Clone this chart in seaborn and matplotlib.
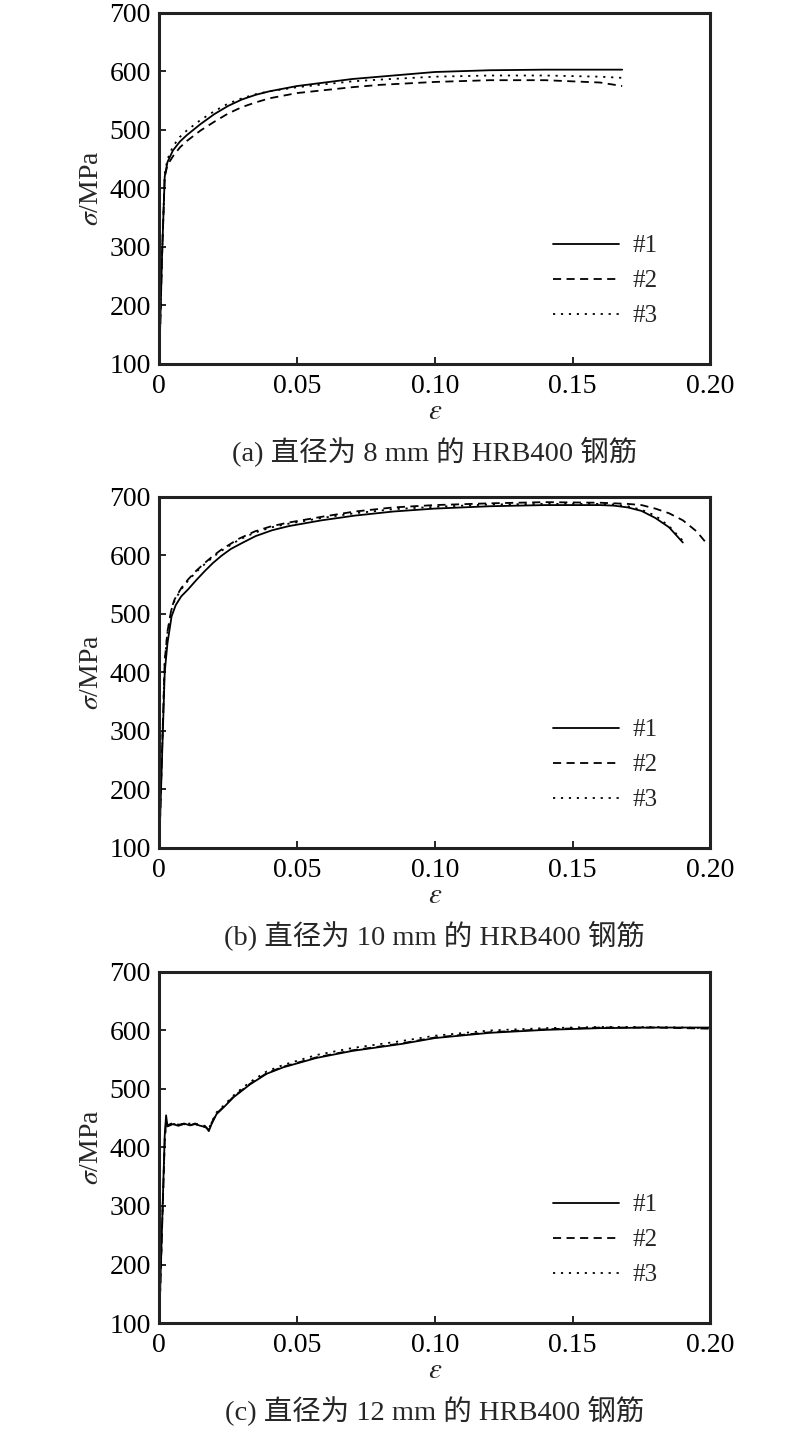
import matplotlib
matplotlib.use('Agg')
import matplotlib.pyplot as plt
import pandas as pd
import seaborn as sns

# strain / stress readings, panel (a) d = 8 mm
a_strain = [0, 0.001, 0.002, 0.003, 0.005, 0.0075, 0.01, 0.015, 0.02, 0.025, 0.03, 0.035, 0.04,
            0.05, 0.06, 0.07, 0.08, 0.10, 0.12, 0.14, 0.16, 0.168]
a_stress_1 = [100, 280, 420, 445, 465, 480, 491, 510, 527, 541, 552, 560, 566,
              575, 581, 587, 591, 599, 602, 603, 603, 603]
a_stress_2 = [100, 280, 420, 440, 455, 470, 481, 499, 514, 528, 539, 547, 554,
              563, 568, 573, 577, 582, 585, 585, 581, 575]
a_stress_3 = [100, 280, 425, 450, 472, 488, 499, 517, 532, 545, 554, 561, 566,
              573, 578, 583, 586, 591, 593, 593, 591, 589]

# panel (b) d = 10 mm
b_strain_1 = [0, 0.001, 0.002, 0.003, 0.0045, 0.006, 0.008, 0.0105, 0.0135, 0.0165, 0.0195, 0.0225, 0.026,
              0.03, 0.035, 0.041, 0.047, 0.059, 0.071, 0.085, 0.10, 0.12, 0.14, 0.16, 0.165, 0.17,
              0.175, 0.18, 0.185, 0.19]
b_stress_1 = [100, 250, 400, 450, 496, 515, 530, 542, 558, 573, 587, 599, 611,
              621, 633, 643, 650, 660, 668, 675, 680, 684, 686, 686, 685, 682,
              676, 664, 648, 622]
b_strain_2 = [0, 0.001, 0.002, 0.003, 0.0045, 0.0056, 0.008, 0.0105, 0.0135, 0.0165, 0.0195, 0.0226, 0.026,
              0.0287, 0.0347, 0.0408, 0.0468, 0.059, 0.071, 0.085, 0.10, 0.12, 0.14, 0.16, 0.17,
              0.175, 0.18, 0.185, 0.19, 0.195, 0.198]
b_stress_2 = [100, 260, 420, 470, 510, 525, 544, 559, 574, 587, 599, 610, 620,
              628, 641, 650, 656, 666, 675, 682, 686, 689, 691, 690, 688,
              686, 680, 672, 660, 641, 624]
b_strain_3 = [0, 0.001, 0.002, 0.003, 0.0045, 0.0056, 0.008, 0.0105, 0.0135, 0.0165, 0.0195, 0.0226, 0.026,
              0.0287, 0.0347, 0.0408, 0.0468, 0.059, 0.071, 0.085, 0.10, 0.12, 0.14, 0.16, 0.165,
              0.17, 0.175, 0.18, 0.185, 0.19]
b_stress_3 = [100, 260, 418, 468, 508, 523, 542, 557, 572, 585, 597, 608, 618,
              626, 639, 648, 654, 664, 672, 679, 683, 687, 688, 688, 687,
              684, 678, 668, 650, 625]

# panel (c) d = 12 mm, yield plateau then hardening
c_strain = [0, 0.001, 0.002, 0.0025, 0.003, 0.005, 0.007, 0.009, 0.011, 0.013, 0.015, 0.017, 0.018, 0.019,
            0.0208, 0.0239, 0.027, 0.03, 0.033, 0.039, 0.045, 0.057, 0.07, 0.088, 0.10, 0.12, 0.14,
            0.16, 0.18, 0.20]
c_stress_1 = [100, 260, 420, 455, 436, 440, 437, 441, 438, 440, 437, 435, 428, 440,
              457, 471, 486, 497, 508, 526, 537, 553, 565, 577, 587, 596, 601, 604, 605, 605]
c_stress_2 = [100, 255, 410, 445, 438, 442, 439, 440, 437, 441, 438, 434, 430, 442,
              458, 472, 487, 498, 509, 527, 538, 554, 566, 578, 588, 597, 602, 605, 605, 603]
c_stress_3 = [100, 255, 415, 440, 441, 439, 442, 438, 441, 439, 440, 436, 432, 443,
              460, 474, 489, 501, 512, 530, 541, 558, 570, 582, 591, 600, 604, 606, 606, 604]

labels = ['#1', '#2', '#3']
captions = ['(a) 直径为 8 mm 的 HRB400 钢筋',
            '(b) 直径为 10 mm 的 HRB400 钢筋',
            '(c) 直径为 12 mm 的 HRB400 钢筋']
x_ticks = [0, 0.05, 0.10, 0.15, 0.20]
x_tick_labels = ['0', '0.05', '0.10', '0.15', '0.20']
y_ticks = [100, 200, 300, 400, 500, 600, 700]


def build_df(series):
    frames = []
    for lab, (x, y) in zip(labels, series):
        frames.append(pd.DataFrame({'strain': x, 'stress': y, 'sample': lab}))
    return pd.concat(frames, ignore_index=True)


panels = [
    build_df([(a_strain, a_stress_1), (a_strain, a_stress_2), (a_strain, a_stress_3)]),
    build_df([(b_strain_1, b_stress_1), (b_strain_2, b_stress_2), (b_strain_3, b_stress_3)]),
    build_df([(c_strain, c_stress_1), (c_strain, c_stress_2), (c_strain, c_stress_3)]),
]

sns.set_theme(style='white')
plt.rcParams['font.family'] = ['Liberation Serif', 'Noto Sans CJK SC']
plt.rcParams['mathtext.fontset'] = 'stix'

fig = plt.figure(figsize=(8, 14.34), dpi=100)
# axes boxes in figure fraction (left, bottom, width, height)
boxes = [(0.199, 0.7462, 0.689, 0.2448),
         (0.199, 0.4087, 0.689, 0.2448),
         (0.199, 0.0774, 0.689, 0.2448)]

dash_map = {'#1': '', '#2': (4.5, 3), '#3': (1.2, 3.2)}

for df, box, cap in zip(panels, boxes, captions):
    ax = fig.add_axes(box)
    sns.lineplot(data=df, x='strain', y='stress', style='sample', dashes=dash_map,
                 color='black', linewidth=1.3, estimator=None, sort=False, ax=ax)
    ax.set_xlim(0, 0.20)
    ax.set_ylim(100, 700)
    ax.set_xticks(x_ticks)
    ax.set_xticklabels(x_tick_labels)
    ax.set_yticks(y_ticks)
    ax.tick_params(axis='both', direction='in', length=5, width=1.2, labelsize=20,
                   colors='black', bottom=True, left=True, top=False, right=False)
    ax.tick_params(axis='x', pad=7)
    ax.tick_params(axis='y', pad=6)
    for sp in ax.spines.values():
        sp.set_linewidth(2.2)
        sp.set_color('#222222')
    ax.set_xlabel(r'$\varepsilon$', fontsize=21, labelpad=0.5)
    ax.set_ylabel(r'$\sigma$/MPa', fontsize=20, labelpad=4)
    handles, labs = ax.get_legend_handles_labels()
    ax.legend(handles, labs, loc='center left', bbox_to_anchor=(0.714, 0.236),
              frameon=False, fontsize=18, handlelength=2.64, handletextpad=0.55,
              labelspacing=0.5, borderpad=0, borderaxespad=0)
    ax.text(0.5, -0.25, cap, transform=ax.transAxes, ha='center', va='center', fontsize=20.5)

fig.savefig('out.png', dpi=100)
